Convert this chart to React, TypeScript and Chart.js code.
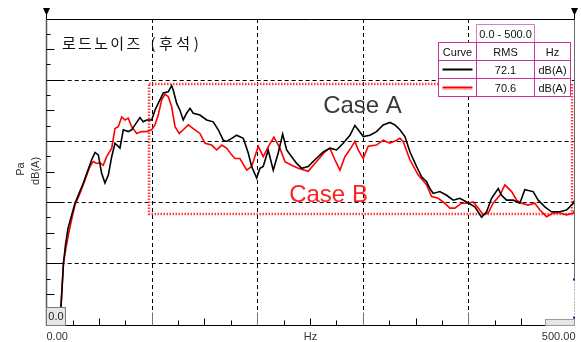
import { useEffect, useRef } from "react";
import { Chart, registerables } from "chart.js";

Chart.register(...registerables);

// ---- data -------------------------------------------------------------
const TITLE_MAIN = "로드노이즈";
const TITLE_SUB = "(후석)";

const X_MIN = 0;
const X_MAX = 500;
const X_MAJOR = 100;
const X_MINOR = 25;
const Y_MIN = 10;
const Y_MAX = 60;
const Y_MAJOR = 10;
const Y_MINOR = 2.5;

const X_LABEL_START = "0.00";
const X_LABEL_END = "500.00";
const X_TITLE = "Hz";
const Y_TITLES = ["Pa", "dB(A)"];
const CORNER_VALUE = "0.0";

// Case A spectrum (Hz, dB(A))
const hzA = [13.5, 15.9, 17.8, 20.2, 23.7, 26.8, 34.7, 42.6, 45.8, 48.9, 52.1, 55.2, 58.4, 61.6, 64.7, 69.4, 72.6, 77.3, 80.5, 83.7, 88.4, 91.5, 94.7, 99.5, 102.6, 105.7, 110.5, 115.2, 118.4, 119.9, 123.2, 126.3, 129.4, 132.6, 135.8, 138.9, 145.2, 151.6, 157.8, 162.6, 167.3, 170.5, 175.3, 180.0, 186.3, 191.0, 194.2, 199.0, 202.1, 205.2, 209.9, 214.7, 219.4, 223.6, 227.4, 232.1, 236.9, 241.6, 247.8, 254.2, 262.1, 268.4, 274.7, 281.0, 287.4, 292.1, 295.2, 300.0, 306.3, 312.6, 318.9, 325.2, 330.0, 334.7, 339.5, 344.2, 350.5, 355.3, 360.0, 363.1, 366.3, 372.6, 379.0, 385.2, 391.5, 397.9, 405.7, 412.1, 416.9, 421.6, 427.9, 431.1, 435.8, 442.1, 448.4, 453.1, 461.0, 465.8, 472.1, 478.4, 486.3, 492.7, 499.0, 500];
const dbA = [12.9, 20.1, 23.1, 25.8, 28.0, 29.9, 33.2, 37.0, 38.2, 37.8, 34.8, 33.2, 34.5, 37.5, 39.7, 38.9, 41.9, 41.6, 41.9, 42.7, 43.9, 43.2, 43.5, 43.5, 45.1, 46.2, 47.9, 48.1, 49.1, 48.4, 46.2, 45.1, 43.5, 44.6, 45.4, 44.6, 44.3, 43.5, 43.2, 41.9, 40.2, 40.0, 40.5, 41.0, 40.5, 38.1, 35.9, 34.0, 35.6, 35.9, 38.6, 35.3, 38.1, 41.2, 38.6, 37.5, 36.4, 35.6, 35.9, 37.0, 38.3, 38.9, 38.6, 39.7, 41.0, 42.6, 41.9, 40.8, 41.0, 41.6, 42.7, 43.1, 42.7, 41.9, 40.8, 38.3, 35.9, 34.2, 33.4, 32.3, 31.5, 31.8, 31.2, 30.4, 30.7, 30.1, 29.3, 27.6, 28.5, 30.7, 32.3, 31.2, 30.4, 30.4, 29.9, 32.1, 31.8, 30.4, 29.3, 28.5, 28.5, 28.8, 29.9, 30.3];

// Case B spectrum (Hz, dB(A))
const hzB = [13.5, 15.9, 18.3, 21.1, 24.0, 26.8, 31.5, 36.3, 41.0, 44.1, 47.4, 50.5, 53.6, 56.8, 61.6, 64.7, 67.8, 71.1, 74.2, 77.3, 80.5, 85.3, 90.0, 94.7, 99.5, 102.6, 105.7, 109.0, 112.1, 115.2, 118.4, 121.6, 125.6, 129.4, 134.2, 138.9, 145.2, 150.0, 156.3, 161.1, 165.8, 170.5, 175.3, 178.4, 183.1, 189.5, 194.2, 200.5, 205.2, 209.9, 215.3, 221.0, 225.8, 232.1, 238.4, 247.8, 255.8, 263.7, 268.4, 273.1, 277.9, 282.6, 289.0, 292.1, 295.2, 300.0, 304.7, 312.6, 318.9, 325.2, 331.6, 334.7, 337.8, 344.2, 352.1, 360.0, 364.8, 371.0, 375.7, 382.1, 386.8, 393.2, 399.4, 404.2, 408.9, 413.6, 418.4, 423.1, 429.5, 434.2, 440.6, 445.3, 450.0, 456.3, 462.6, 467.4, 473.7, 480.0, 486.3, 492.7, 499.0, 500];
const dbB = [12.9, 20.1, 22.6, 25.2, 27.5, 29.6, 31.5, 33.7, 35.9, 36.7, 36.4, 36.5, 36.1, 37.5, 38.9, 42.1, 42.4, 44.0, 43.5, 43.8, 42.4, 41.3, 41.6, 41.6, 41.9, 42.7, 44.3, 46.8, 47.7, 47.3, 45.7, 42.4, 41.3, 41.9, 42.7, 42.1, 41.3, 39.7, 39.4, 38.6, 39.4, 38.9, 37.8, 37.2, 37.2, 35.3, 35.9, 39.2, 37.5, 39.1, 40.7, 38.9, 36.7, 36.1, 35.6, 35.1, 36.7, 38.3, 38.9, 37.0, 35.3, 37.5, 39.1, 40.0, 38.6, 37.2, 39.2, 39.4, 40.2, 39.7, 40.2, 40.5, 40.0, 37.0, 34.5, 32.9, 31.0, 30.7, 30.1, 29.1, 29.1, 29.9, 29.9, 30.1, 29.1, 28.0, 28.3, 29.9, 31.2, 32.9, 31.8, 30.4, 29.9, 29.6, 29.9, 28.8, 27.7, 28.3, 28.3, 28.0, 28.3, 28.6];

const caseNames = ["Case A", "Case B"];
const caseColors = ["#000000", "#ff0000"];
const rmsValues = [72.1, 70.6];
const RMS_UNIT = "dB(A)";
const RANGE_LABEL = "0.0 - 500.0";
const TABLE_HEADERS = ["Curve", "RMS", "Hz"];

// highlighted band (Hz range, dB range)
const BAND_HZ = [96.5, 497];
const BAND_DB = [28.1, 49.4];

// ---- drawing helpers ---------------------------------------------------
const FONT = '"Liberation Sans", Arial, sans-serif';
const crisp = (v: number) => Math.floor(v) + 0.5;

function hLine(ctx: CanvasRenderingContext2D, x1: number, x2: number, y: number) {
  ctx.beginPath();
  ctx.moveTo(x1, y);
  ctx.lineTo(x2, y);
  ctx.stroke();
}
function vLine(ctx: CanvasRenderingContext2D, x: number, y1: number, y2: number) {
  ctx.beginPath();
  ctx.moveTo(x, y1);
  ctx.lineTo(x, y2);
  ctx.stroke();
}

function spacedText(ctx: CanvasRenderingContext2D, text: string, x: number, y: number, spacing: number) {
  let cx = x;
  for (const ch of Array.from(text)) {
    ctx.fillText(ch, cx, y);
    cx += ctx.measureText(ch).width + spacing;
  }
  return cx;
}

const framePlugin = {
  id: "frame",
  beforeDraw(chart: any) {
    const { ctx, width, height } = chart;
    ctx.save();
    ctx.fillStyle = "#ffffff";
    ctx.fillRect(0, 0, width, height);
    ctx.restore();
  },
  beforeDatasetsDraw(chart: any) {
    const { ctx, chartArea: a, scales } = chart;
    const xs = scales.x;
    const ys = scales.y;
    ctx.save();
    ctx.lineWidth = 1;
    ctx.strokeStyle = "#000000";
    ctx.setLineDash([4, 3]);
    for (let v = X_MIN + X_MAJOR; v < X_MAX; v += X_MAJOR) {
      vLine(ctx, crisp(xs.getPixelForValue(v)), a.top, a.bottom);
    }
    for (let v = Y_MIN + Y_MAJOR; v < Y_MAX; v += Y_MAJOR) {
      hLine(ctx, a.left, a.right, crisp(ys.getPixelForValue(v)));
    }

    // dotted band outline
    const bx1 = xs.getPixelForValue(BAND_HZ[0]);
    const bx2 = xs.getPixelForValue(BAND_HZ[1]);
    const by1 = ys.getPixelForValue(BAND_DB[1]);
    const by2 = ys.getPixelForValue(BAND_DB[0]);
    ctx.strokeStyle = "rgba(255,30,30,0.85)";
    ctx.lineWidth = 2.5;
    ctx.setLineDash([1.5, 1.5]);
    ctx.strokeRect(Math.round(bx1), Math.round(by1), Math.round(bx2 - bx1), Math.round(by2 - by1));
    ctx.restore();
  },
  afterDatasetsDraw(chart: any) {
    const { ctx, chartArea: a, scales } = chart;
    const xs = scales.x;
    const ys = scales.y;
    const L = crisp(a.left);
    const R = crisp(a.right);
    const T = crisp(a.top);
    const B = crisp(a.bottom);

    ctx.save();
    ctx.setLineDash([]);

    // case labels
    ctx.font = `24px ${FONT}`;
    ctx.textAlign = "left";
    ctx.textBaseline = "alphabetic";
    ctx.fillStyle = "#3a3a3a";
    ctx.fillText(caseNames[0], xs.getPixelForValue(262), ys.getPixelForValue(44.6));
    ctx.fillStyle = "#ff2020";
    ctx.fillText(caseNames[1], xs.getPixelForValue(229.8), ys.getPixelForValue(30.1));

    // frame lines
    ctx.lineWidth = 1;
    ctx.strokeStyle = "#000000";
    hLine(ctx, L, R, T);
    hLine(ctx, L, R, B);
    ctx.strokeStyle = "#555555";
    ctx.lineWidth = 1.5;
    vLine(ctx, L, T, B);
    ctx.lineWidth = 1;
    ctx.strokeStyle = "#6a6a6a";
    vLine(ctx, R, T, B - 47);
    ctx.setLineDash([1, 2]);
    vLine(ctx, R, B - 45, B - 9);
    ctx.setLineDash([]);
    vLine(ctx, R, B - 8, B);
    ctx.fillStyle = "#1c1c8c";
    ctx.fillRect(R - 1.5, B - 47, 2, 2);
    ctx.fillRect(R - 1.5, B - 9, 2, 2);

    // y ticks
    ctx.strokeStyle = "#000000";
    const nY = Math.round((Y_MAX - Y_MIN) / Y_MINOR);
    for (let i = 1; i < nY; i++) {
      const v = Y_MIN + i * Y_MINOR;
      const py = crisp(ys.getPixelForValue(v));
      const len = i % 4 === 0 ? 16 : i % 2 === 0 ? 8 : 4;
      hLine(ctx, L, L + len, py);
    }
    // x ticks
    const nX = Math.round((X_MAX - X_MIN) / X_MINOR);
    for (let i = 1; i < nX; i++) {
      const v = X_MIN + i * X_MINOR;
      const px = crisp(xs.getPixelForValue(v));
      if (i % 4 === 0) {
        ctx.strokeStyle = "#777777";
        vLine(ctx, px, B - 13, B);
      } else {
        ctx.strokeStyle = "#000000";
        vLine(ctx, px, B - (i % 2 === 0 ? 7 : 5), B);
      }
    }

    // corner boxes
    ctx.fillStyle = "#e6e6e6";
    ctx.strokeStyle = "#7a7a7a";
    ctx.fillRect(L, B - 18, 19, 18);
    ctx.strokeRect(L, B - 18, 19, 18);
    ctx.fillRect(R - 29, B - 6, 29, 6);
    ctx.strokeStyle = "#9a9a9a";
    ctx.strokeRect(R - 29, B - 6, 29, 6);
    ctx.font = `11px ${FONT}`;
    ctx.fillStyle = "#222222";
    ctx.textAlign = "center";
    ctx.textBaseline = "middle";
    ctx.fillText(CORNER_VALUE, L + 9.5, B - 8.5);

    // top markers
    ctx.fillStyle = "#000000";
    ctx.strokeStyle = "#000000";
    for (const mx of [L, R]) {
      ctx.beginPath();
      ctx.moveTo(mx - 3.5, 8);
      ctx.lineTo(mx + 3.5, 8);
      ctx.lineTo(mx, 15.5);
      ctx.closePath();
      ctx.fill();
      vLine(ctx, mx, 14, T);
    }

    // axis labels
    ctx.fillStyle = "#333333";
    ctx.font = `11px ${FONT}`;
    ctx.textBaseline = "middle";
    ctx.textAlign = "left";
    ctx.fillText(X_LABEL_START, L, 336.5);
    ctx.textAlign = "center";
    ctx.fillText(X_TITLE, xs.getPixelForValue(250), 336.5);
    ctx.textAlign = "right";
    ctx.fillText(X_LABEL_END, R + 1, 336.5);

    ctx.textAlign = "center";
    const yMid = (a.top + a.bottom) / 2;
    ctx.save();
    ctx.translate(21, yMid - 3);
    ctx.rotate(-Math.PI / 2);
    ctx.fillText(Y_TITLES[0], 0, 0);
    ctx.restore();
    ctx.save();
    ctx.translate(36, yMid - 1);
    ctx.rotate(-Math.PI / 2);
    ctx.fillText(Y_TITLES[1], 0, 0);
    ctx.restore();

    // title
    ctx.fillStyle = "#111111";
    ctx.font = `15px "Noto Sans CJK KR", sans-serif`;
    ctx.textAlign = "left";
    ctx.textBaseline = "middle";
    spacedText(ctx, TITLE_MAIN, L + 15.5, 43, 2.3);
    spacedText(ctx, TITLE_SUB, L + 104, 43, 3.5);

    // summary table
    const c0 = crisp(R - 136);
    const c1 = crisp(R - 98);
    const c2 = crisp(R - 40);
    const c3 = crisp(R - 4);
    const r0 = crisp(24);
    const r1 = crisp(42.7);
    const r2 = crisp(60.7);
    const r3 = crisp(78.3);
    const r4 = crisp(96.7);
    ctx.fillStyle = "#ffffff";
    ctx.fillRect(c1, r0, c2 - c1, r1 - r0);
    ctx.fillRect(c0, r1, c3 - c0, r4 - r1);
    ctx.lineWidth = 1;
    ctx.strokeStyle = "#e07cc4";
    ctx.strokeRect(c1, r0, c2 - c1, r1 - r0);
    ctx.strokeStyle = "#c8359a";
    ctx.strokeRect(c0, r1, c3 - c0, r4 - r1);
    hLine(ctx, c0, c3, r2);
    hLine(ctx, c0, c3, r3);
    vLine(ctx, c1, r1, r4);
    vLine(ctx, c2, r1, r4);

    ctx.fillStyle = "#111111";
    ctx.font = `11px ${FONT}`;
    ctx.textAlign = "center";
    ctx.textBaseline = "middle";
    ctx.fillText(RANGE_LABEL, (c1 + c2) / 2, (r0 + r1) / 2 + 1);
    ctx.fillText(TABLE_HEADERS[0], (c0 + c1) / 2, (r1 + r2) / 2 + 1);
    ctx.fillText(TABLE_HEADERS[1], (c1 + c2) / 2, (r1 + r2) / 2 + 1);
    ctx.fillText(TABLE_HEADERS[2], (c2 + c3) / 2, (r1 + r2) / 2 + 1);
    const rows = [
      [r2, r3],
      [r3, r4],
    ];
    rows.forEach(([ra, rb], i) => {
      const my = (ra + rb) / 2;
      ctx.strokeStyle = caseColors[i];
      ctx.lineWidth = 2;
      hLine(ctx, c0 + 4, c1 - 4, Math.round(my) - 0.5);
      if (i === 1) {
        ctx.strokeStyle = "rgba(255,90,90,0.45)";
        ctx.lineWidth = 1;
        hLine(ctx, c0 + 4, c1 - 4, Math.round(my) + 1.5);
      }
      ctx.fillStyle = "#111111";
      ctx.fillText(rmsValues[i].toFixed(1), (c1 + c2) / 2, my + 1);
      ctx.fillText(RMS_UNIT, (c2 + c3) / 2, my + 1);
    });

    ctx.restore();
  },
};

export default function App() {
  const canvasRef = useRef<HTMLCanvasElement | null>(null);

  useEffect(() => {
    const canvas = canvasRef.current;
    if (!canvas) return;
    const chart = new Chart(canvas, {
      type: "line",
      data: {
        datasets: [
          {
            label: caseNames[0],
            data: hzA.map((h, i) => ({ x: h, y: dbA[i] })),
            borderColor: caseColors[0],
            borderWidth: 1.6,
            pointRadius: 0,
            tension: 0,
          },
          {
            label: caseNames[1],
            data: hzB.map((h, i) => ({ x: h, y: dbB[i] })),
            borderColor: caseColors[1],
            borderWidth: 1.6,
            pointRadius: 0,
            tension: 0,
          },
        ],
      },
      options: {
        responsive: false,
        animation: false,
        devicePixelRatio: 1,
        layout: { padding: { left: 46.7, right: 6.7, top: 19, bottom: 17 } },
        plugins: {
          legend: { display: false },
          tooltip: { enabled: false },
          title: { display: false },
        },
        scales: {
          x: { type: "linear", min: X_MIN, max: X_MAX, display: false },
          y: { type: "linear", min: Y_MIN, max: Y_MAX, display: false },
        },
      },
      plugins: [framePlugin],
    });
    return () => chart.destroy();
  }, []);

  return (
    <div style={{ position: "absolute", left: 0, top: 0, width: 581, height: 342, background: "#fff" }}>
      <canvas ref={canvasRef} width={581} height={342} style={{ display: "block", width: 581, height: 342 }} />
    </div>
  );
}
